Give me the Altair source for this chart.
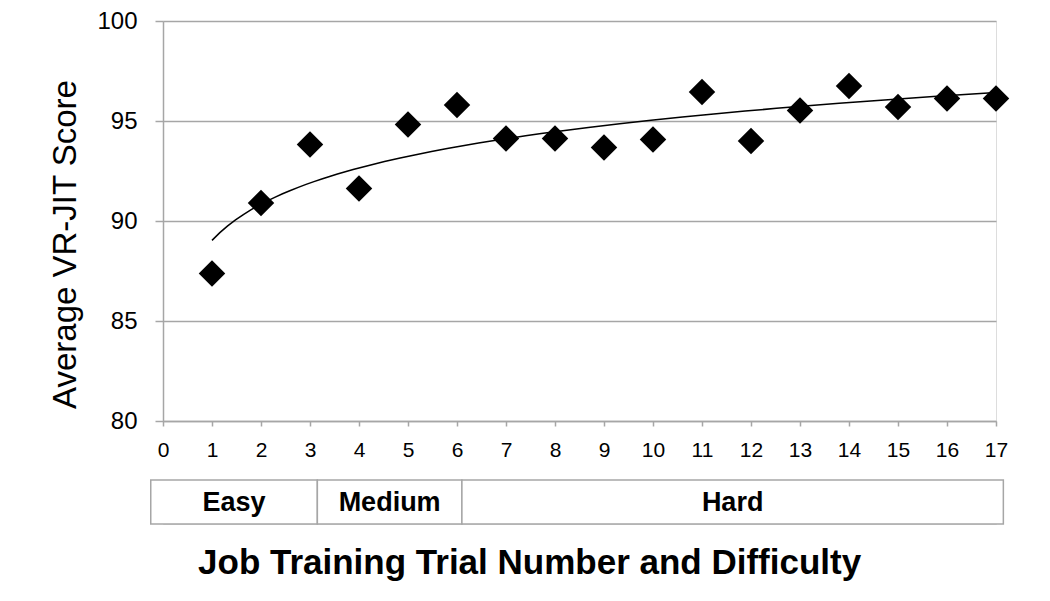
import altair as alt
import pandas as pd

# ---- data ----
trials = list(range(1, 18))
scores = [87.38, 90.90, 93.83, 91.63, 94.83, 95.80, 94.13, 94.12, 93.67,
          94.07, 96.45, 94.00, 95.53, 96.75, 95.70, 96.12, 96.13]

band_names = ["Easy", "Medium", "Hard"]
band_start = [-0.25, 3.15, 6.1]
band_end = [3.15, 6.1, 17.15]

x_ticks = list(range(0, 18))
y_ticks = [80, 85, 90, 95, 100]

FONT = "Liberation Sans"
GRID = "#a6a6a6"

df = pd.DataFrame({"trial": trials, "score": scores})
bands = pd.DataFrame({"band": band_names, "start": band_start, "end": band_end})

x_enc = alt.X(
    "trial:Q",
    scale=alt.Scale(domain=[0, 17], nice=False, zero=False),
    axis=alt.Axis(values=x_ticks, grid=False, title=None, labelFontSize=21,
                  tickSize=5, labelPadding=13, domainColor=GRID, tickColor=GRID,
                  domainWidth=1.5, tickWidth=1.5, labelFlush=False),
)
y_enc = alt.Y(
    "score:Q",
    scale=alt.Scale(domain=[80, 100], nice=False, zero=False),
    axis=alt.Axis(values=y_ticks, grid=True, gridColor=GRID, gridWidth=1.5,
                  tickSize=8, tickColor=GRID, tickWidth=1.5, domainColor=GRID,
                  domainWidth=1.5, labelPadding=18, labelFontSize=24,
                  title="Average VR-JIT Score", titleFontSize=33,
                  titleFontWeight="normal", titlePadding=14, titleY=223),
)

base = alt.Chart(df)
points = base.mark_point(shape="diamond", filled=True, size=700,
                         color="black", opacity=1).encode(x=x_enc, y=y_enc)
trend = base.transform_regression(
    "trial", "score", method="log", extent=[1, 17]
).mark_line(color="black", strokeWidth=1.5).encode(x=x_enc, y=y_enc)

top = alt.layer(trend, points).properties(width=833, height=400)

bx = alt.Scale(domain=[0, 17], nice=False, zero=False)
band_rect = alt.Chart(bands).mark_rect(fill="white", stroke=GRID, strokeWidth=1.5).encode(
    x=alt.X("start:Q", scale=bx, axis=None),
    x2="end:Q",
    y=alt.value(0),
    y2=alt.value(44),
)
band_text = alt.Chart(bands).transform_calculate(
    mid="(datum.start + datum.end) / 2"
).mark_text(fontSize=27, fontWeight="bold", font=FONT, color="black",
            baseline="middle", align="center").encode(
    x=alt.X("mid:Q", scale=bx, axis=None),
    y=alt.value(23),
    text="band:N",
)
bottom = alt.layer(band_rect, band_text).properties(width=833, height=44)

chart = alt.vconcat(top, bottom, spacing=17).properties(
    title=alt.TitleParams("Job Training Trial Number and Difficulty",
                          orient="bottom", anchor="middle", fontSize=35,
                          fontWeight="bold", font=FONT, color="black", offset=21),
    padding={"left": 41, "top": 0, "right": 5, "bottom": 5},
).configure_view(stroke=None).configure_axis(
    labelFont=FONT, titleFont=FONT, labelColor="black", titleColor="black"
).configure(font=FONT)

chart.save("out.html", embed_options={"renderer": "svg", "actions": False})
